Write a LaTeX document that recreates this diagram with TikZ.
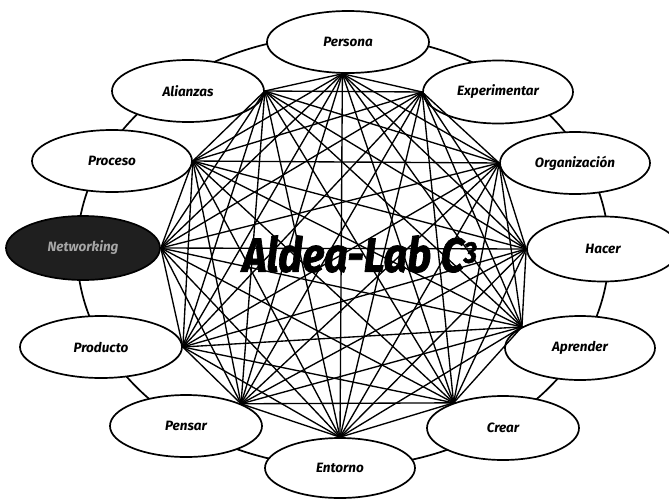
\documentclass[tikz,border=0pt]{standalone}
\usepackage{fontspec}
\setmainfont{Fira Sans}
\newfontfamily\titlefont{Fira Sans}[BoldItalicFeatures={FakeBold=1.6}]
\usetikzlibrary{shapes.geometric}
\tikzset{
  item/.style={ellipse, draw=black, line width=1.7pt, fill=white,
    minimum width=154pt, minimum height=62pt, inner sep=0pt,
    font=\fontsize{13.5}{15}\selectfont\bfseries\itshape},
  darkitem/.style={item, fill=black!88, text=black!35},
  link/.style={line width=1.35pt},
  ringline/.style={line width=1.7pt},
  title/.style={font=\titlefont\fontsize{48}{52}\selectfont\bfseries\itshape, inner sep=0pt, xscale=0.86, transform shape}
}
\begin{document}
\begin{tikzpicture}[x=1pt,y=-1pt]
\useasboundingbox (0,0) rectangle (669,498);
\draw[ringline] (343,251) ellipse [x radius=266, y radius=216];
\node[item, minimum width=162pt] (persona) at (348,42) {Persona};
\node[item, minimum width=150pt, minimum height=63pt] (experimentar) at (498,92) {Experimentar};
\node[item, minimum width=150pt] (organizacion) at (575,163) {Organización};
\node[item, minimum width=152pt, minimum height=65pt] (hacer) at (603,249) {Hacer};
\node[item, minimum width=150pt, minimum height=64pt] (aprender) at (580,348) {Aprender};
\node[item, minimum width=152pt, minimum height=64pt] (crear) at (503,428) {Crear};
\node[item, minimum width=150pt, minimum height=60pt] (entorno) at (340,468) {Entorno};
\node[item, minimum width=152pt] (pensar) at (186,426) {Pensar};
\node[item, minimum width=162pt] (producto) at (101,347) {Producto};
\node[darkitem, minimum width=154pt, minimum height=64pt] (networking) at (83,248) {Networking};
\node[item, minimum width=160pt] (proceso) at (112,161) {Proceso};
\node[item, minimum width=152pt] (alianzas) at (188,91) {Alianzas};
\coordinate (v1) at (persona.-100);
\coordinate (v2) at (experimentar.west);
\coordinate (v3) at (organizacion.west);
\coordinate (v4) at (hacer.west);
\coordinate (v5) at (aprender.160);
\coordinate (v6) at (crear.153);
\coordinate (v7) at (entorno.north);
\coordinate (v8) at (pensar.22);
\coordinate (v9) at (producto.east);
\coordinate (v10) at (networking.east);
\coordinate (v11) at (proceso.east);
\coordinate (v12) at (alianzas.east);
\foreach \i in {1,...,12}{
  \foreach \j in {1,...,12}{
    \ifnum\i<\j \draw[link] (v\i) -- (v\j);\fi
  }
}
\node[title] (titletext) at (360,254) {Aldea-Lab C\textsuperscript{\fontsize{30}{32}\selectfont 3}};
\end{tikzpicture}
\end{document}
